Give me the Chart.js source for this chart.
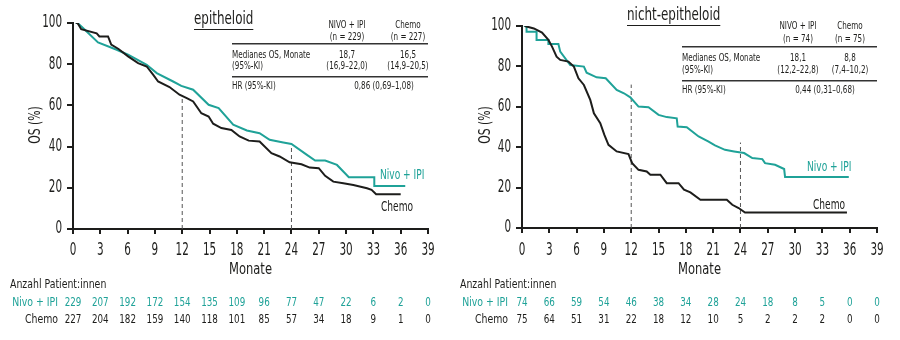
<!DOCTYPE html>
<html>
<head>
<meta charset="utf-8">
<script src="https://cdn.jsdelivr.net/npm/chart.js@4.4.0/dist/chart.umd.min.js"></script>
<style>
  body { margin: 0; background: #fff; width: 900px; height: 340px; overflow: hidden; position: relative; }
  canvas { position: absolute; top: 0; }
  #left { left: 0; }
  #right { left: 450px; }
</style>
</head>
<body>
<canvas id="left" width="450" height="340"></canvas>
<canvas id="right" width="450" height="340"></canvas>
<script>
// Colors / fonts
const TEAL = "#1fa298";
const DARK = "#1d1d1b";
const FONT = "'DejaVu Sans Condensed', 'Liberation Sans Narrow', sans-serif";

// Axis ticks / risk table months
const months = [0, 3, 6, 9, 12, 15, 18, 21, 24, 27, 30, 33, 36, 39];
const yTicks = [0, 20, 40, 60, 80, 100];

// Epitheloid - Nivo + IPI
const epiNivoT = [0.3, 0.5, 1.1, 2.75, 4.8, 6.05, 8.1, 9.2, 11.0, 11.9, 13.2, 14.9, 16, 17.6, 19.1, 20.5, 21.6, 23.1, 24, 25.7, 26.6, 27.7, 29, 30.3, 33.1, 33.1, 36.5];
const epiNivoS = [100, 100, 97.6, 90.6, 87, 84.6, 79.7, 75.7, 71.6, 69.5, 67.6, 60.3, 58.7, 50.6, 47.8, 46.5, 43.3, 42, 41.3, 36, 33.2, 33.2, 31.1, 25.1, 25.1, 20.9, 20.9];
// Epitheloid - Chemo
const epiChemoT = [0.3, 0.5, 0.9, 2.6, 2.9, 3.85, 4.2, 5, 6.05, 7.15, 8.1, 8.8, 9.35, 10.6, 11.7, 12.5, 13.2, 14.1, 14.9, 15.4, 16.3, 17.4, 18.3, 19.3, 20.5, 21.8, 22.7, 23.8, 25.1, 26, 27, 27.7, 28.6, 29.7, 30.8, 32.3, 32.8, 33.3, 36];
const epiChemoS = [100, 100, 97, 95, 93.5, 93.5, 89.5, 87.4, 83.8, 80.5, 78.9, 74.9, 71.6, 68.9, 65.2, 63.5, 61.9, 56.2, 54.6, 51.1, 49, 48.1, 44.9, 42.9, 42.5, 36.8, 35.2, 32.4, 31.4, 29.8, 29.5, 25.8, 23, 22.2, 21.4, 19.8, 19, 16.9, 16.9];
const epiMarks = [64, 41.5];
const epiNivoRisk = [229, 207, 192, 172, 154, 135, 109, 96, 77, 47, 22, 6, 2, 0];
const epiChemoRisk = [227, 204, 182, 159, 140, 118, 101, 85, 57, 34, 18, 9, 1, 0];
const epiHeader = ["NIVO + IPI", "(n = 229)", "Chemo", "(n = 227)"];
const epiMedian = ["18,7", "(16,9–22,0)", "16,5", "(14,9–20,5)"];
const epiHR = "0,86 (0,69–1,08)";

// Nicht-epitheloid - Nivo + IPI
const nonNivoT = [0.2, 0.5, 0.5, 1.6, 1.6, 2.9, 2.9, 4.0, 4.2, 5.3, 6.8, 7.1, 8.2, 9.2, 10.4, 11.2, 11.9, 12.8, 13.9, 15, 15.9, 17, 17.1, 18.1, 19.4, 20.5, 21.2, 22.3, 23.3, 24.4, 25.3, 26.4, 26.7, 27.8, 28.8, 28.9, 35.9];
const nonNivoS = [100, 100, 97.2, 97.2, 93.1, 93.1, 91.1, 91.1, 87.3, 80.7, 79.9, 76.9, 74.6, 74.1, 68.4, 66.7, 64.7, 60.1, 59.8, 56, 54.9, 54.3, 50.2, 49.9, 45.3, 42.8, 40.9, 38.7, 37.9, 37.1, 34.6, 34.1, 32.1, 31.3, 29.2, 25.2, 25.2];
// Nicht-epitheloid - Chemo
const nonChemoT = [0.3, 1.3, 2.2, 2.9, 3.3, 3.8, 4.2, 5.1, 5.7, 6.2, 6.8, 7.5, 7.9, 8.6, 9.05, 9.5, 10.4, 11.7, 12.1, 12.8, 13.7, 14.1, 15.2, 15.9, 17.2, 17.8, 18.5, 19.6, 22.5, 23.1, 23.8, 24.5, 35.7];
const nonChemoS = [100, 98.8, 96.7, 93.1, 89.8, 84.8, 83.2, 82.4, 79.9, 74.1, 70.8, 63.4, 56.8, 51.9, 46.1, 41.2, 37.9, 36.6, 32.1, 28.8, 28, 26.4, 26.4, 22.2, 22.2, 19, 17.6, 14, 14, 11.5, 9.9, 7.7, 7.7];
const nonMarks = [71, 42.3];
const nonNivoRisk = [74, 66, 59, 54, 46, 38, 34, 28, 24, 18, 8, 5, 0, 0];
const nonChemoRisk = [75, 64, 51, 31, 22, 18, 12, 10, 5, 2, 2, 2, 0, 0];
const nonHeader = ["NIVO + IPI", "(n = 74)", "Chemo", "(n = 75)"];
const nonMedian = ["18,1", "(12,2–22,8)", "8,8", "(7,4–10,2)"];
const nonHR = "0,44 (0,31–0,68)";

function toPoints(t, s) {
  return t.map((x, i) => ({ x: x, y: s[i] }));
}

// text with horizontal squeeze (reference uses a condensed face)
function txt(ctx, s, x, y, size, color, align, sx) {
  ctx.save();
  ctx.font = size + "px " + FONT;
  ctx.fillStyle = color;
  ctx.textAlign = align || "left";
  ctx.textBaseline = "middle";
  ctx.translate(x, y);
  ctx.scale(sx || 1, 1);
  ctx.fillText(s, 0, 0);
  ctx.restore();
}

// Draws tick labels, titles, inset table, curve labels and the risk table
function textPlugin(o) {
  return {
    id: "texts",
    afterDraw(chart) {
      const ctx = chart.ctx;
      const xs = chart.scales.x;
      const ys = chart.scales.y;
      const L = o.layout;
      const area = chart.chartArea;

      // tick labels
      months.forEach((m) => txt(ctx, String(m), xs.getPixelForValue(m), 251, 17, DARK, "center", 0.68));
      yTicks.forEach((v) => txt(ctx, String(v), area.left - 11, ys.getPixelForValue(v), 17, DARK, "right", 0.68));

      // title, underlined
      txt(ctx, o.title, L.titleX, L.titleY, 17, DARK, "left", 0.78);
      ctx.font = "17px " + FONT;
      const w = ctx.measureText(o.title).width * 0.78;
      ctx.fillStyle = DARK;
      ctx.fillRect(L.titleX, L.titleY + 9, w, 1);

      // inset table
      const fs = 10, sq = 0.8;
      txt(ctx, o.header[0], L.c1, L.h1, fs, DARK, "center", sq);
      txt(ctx, o.header[1], L.c1, L.h2, fs, DARK, "center", sq);
      txt(ctx, o.header[2], L.c2, L.h1, fs, DARK, "center", sq);
      txt(ctx, o.header[3], L.c2, L.h2, fs, DARK, "center", sq);
      ctx.fillStyle = "#333";
      ctx.fillRect(L.tx, L.line1, L.tw, 1.5);
      ctx.fillRect(L.tx, L.line2, L.tw, 1.5);
      txt(ctx, "Medianes OS, Monate", L.tx, L.m1, fs, DARK, "left", sq);
      txt(ctx, "(95%-KI)", L.tx, L.m2, fs, DARK, "left", sq);
      txt(ctx, o.median[0], L.c1, L.m1, fs, DARK, "center", sq);
      txt(ctx, o.median[1], L.c1, L.m2, fs, DARK, "center", sq);
      txt(ctx, o.median[2], L.c2, L.m1, fs, DARK, "center", sq);
      txt(ctx, o.median[3], L.c2, L.m2, fs, DARK, "center", sq);
      txt(ctx, "HR (95%-KI)", L.tx, L.hr, fs, DARK, "left", sq);
      txt(ctx, o.hr, L.hrX, L.hr, fs, DARK, "center", sq);

      // curve labels
      txt(ctx, "Nivo + IPI", L.nivoX, L.nivoY, 14, TEAL, "left", 0.72);
      txt(ctx, "Chemo", L.chemoX, L.chemoY, 14, DARK, "left", 0.72);

      // axis titles
      ctx.save();
      ctx.translate(36, 125);
      ctx.rotate(-Math.PI / 2);
      txt(ctx, "OS (%)", 0, 0, 16, DARK, "center", 0.75);
      ctx.restore();
      txt(ctx, "Monate", (area.left + area.right) / 2, 270, 16, DARK, "center", 0.8);

      // risk table
      txt(ctx, "Anzahl Patient:innen", 10, 285, 13, DARK, "left", 0.8);
      txt(ctx, "Nivo + IPI", 58, 303, 13, TEAL, "right", 0.8);
      txt(ctx, "Chemo", 58, 320, 13, DARK, "right", 0.8);
      months.forEach((m, i) => {
        const px = xs.getPixelForValue(m);
        txt(ctx, String(o.nivoRisk[i]), px, 303, 12.5, TEAL, "center", 0.78);
        txt(ctx, String(o.chemoRisk[i]), px, 320, 12.5, DARK, "center", 0.78);
      });
    }
  };
}

function buildChart(id, o) {
  const ctx = document.getElementById(id).getContext("2d");
  const line = (pts, color) => ({
    data: pts, borderColor: color, borderWidth: 2, pointRadius: 0, fill: false, tension: 0
  });
  const dash = (x, top) => ({
    data: [{ x: x, y: 0 }, { x: x, y: top }],
    borderColor: "#555", borderWidth: 1, borderDash: [4, 3], pointRadius: 0, fill: false
  });

  return new Chart(ctx, {
    type: "line",
    data: {
      datasets: [
        line(toPoints(o.chemoT, o.chemoS), DARK),
        line(toPoints(o.nivoT, o.nivoS), TEAL),
        dash(12, o.marks[0]),
        dash(24, o.marks[1])
      ]
    },
    options: {
      responsive: false,
      animation: false,
      layout: { padding: o.padding },
      plugins: { legend: { display: false }, tooltip: { enabled: false } },
      scales: {
        x: {
          type: "linear", min: 0, max: 39,
          ticks: { stepSize: 3, color: "rgba(0,0,0,0)", font: { family: FONT, size: 12 } },
          grid: { drawOnChartArea: false, tickLength: 5, color: DARK, lineWidth: 2 },
          border: { color: DARK, width: 2 },
          afterFit(s) { s.height = 30; }
        },
        y: {
          min: 0, max: 100,
          ticks: { stepSize: 20, color: "rgba(0,0,0,0)", font: { family: FONT, size: 12 } },
          grid: { drawOnChartArea: false, tickLength: 6, color: DARK, lineWidth: 2 },
          border: { color: DARK, width: 2 },
          afterFit(s) { s.width = o.yWidth; }
        }
      }
    },
    plugins: [textPlugin(o)]
  });
}

buildChart("left", {
  nivoT: epiNivoT, nivoS: epiNivoS, chemoT: epiChemoT, chemoS: epiChemoS,
  marks: epiMarks, nivoRisk: epiNivoRisk, chemoRisk: epiChemoRisk,
  title: "epitheloid", header: epiHeader, median: epiMedian, hr: epiHR,
  padding: { left: 0, right: 22, top: 23, bottom: 81 }, yWidth: 73,
  layout: {
    titleX: 194, titleY: 20, c1: 347, c2: 408, tx: 232, tw: 196,
    h1: 25, h2: 37, line1: 43, line2: 76, m1: 55, m2: 66, hr: 86, hrX: 384,
    nivoX: 380, nivoY: 175, chemoX: 381, chemoY: 207
  }
});

buildChart("right", {
  nivoT: nonNivoT, nivoS: nonNivoS, chemoT: nonChemoT, chemoS: nonChemoS,
  marks: nonMarks, nivoRisk: nonNivoRisk, chemoRisk: nonChemoRisk,
  title: "nicht-epitheloid", header: nonHeader, median: nonMedian, hr: nonHR,
  padding: { left: 0, right: 23, top: 26, bottom: 82 }, yWidth: 72,
  layout: {
    titleX: 177, titleY: 16, c1: 348, c2: 400, tx: 232, tw: 195,
    h1: 26, h2: 39, line1: 46, line2: 80, m1: 58, m2: 70, hr: 90, hrX: 375,
    nivoX: 357, nivoY: 167, chemoX: 363, chemoY: 205
  }
});
</script>
</body>
</html>
